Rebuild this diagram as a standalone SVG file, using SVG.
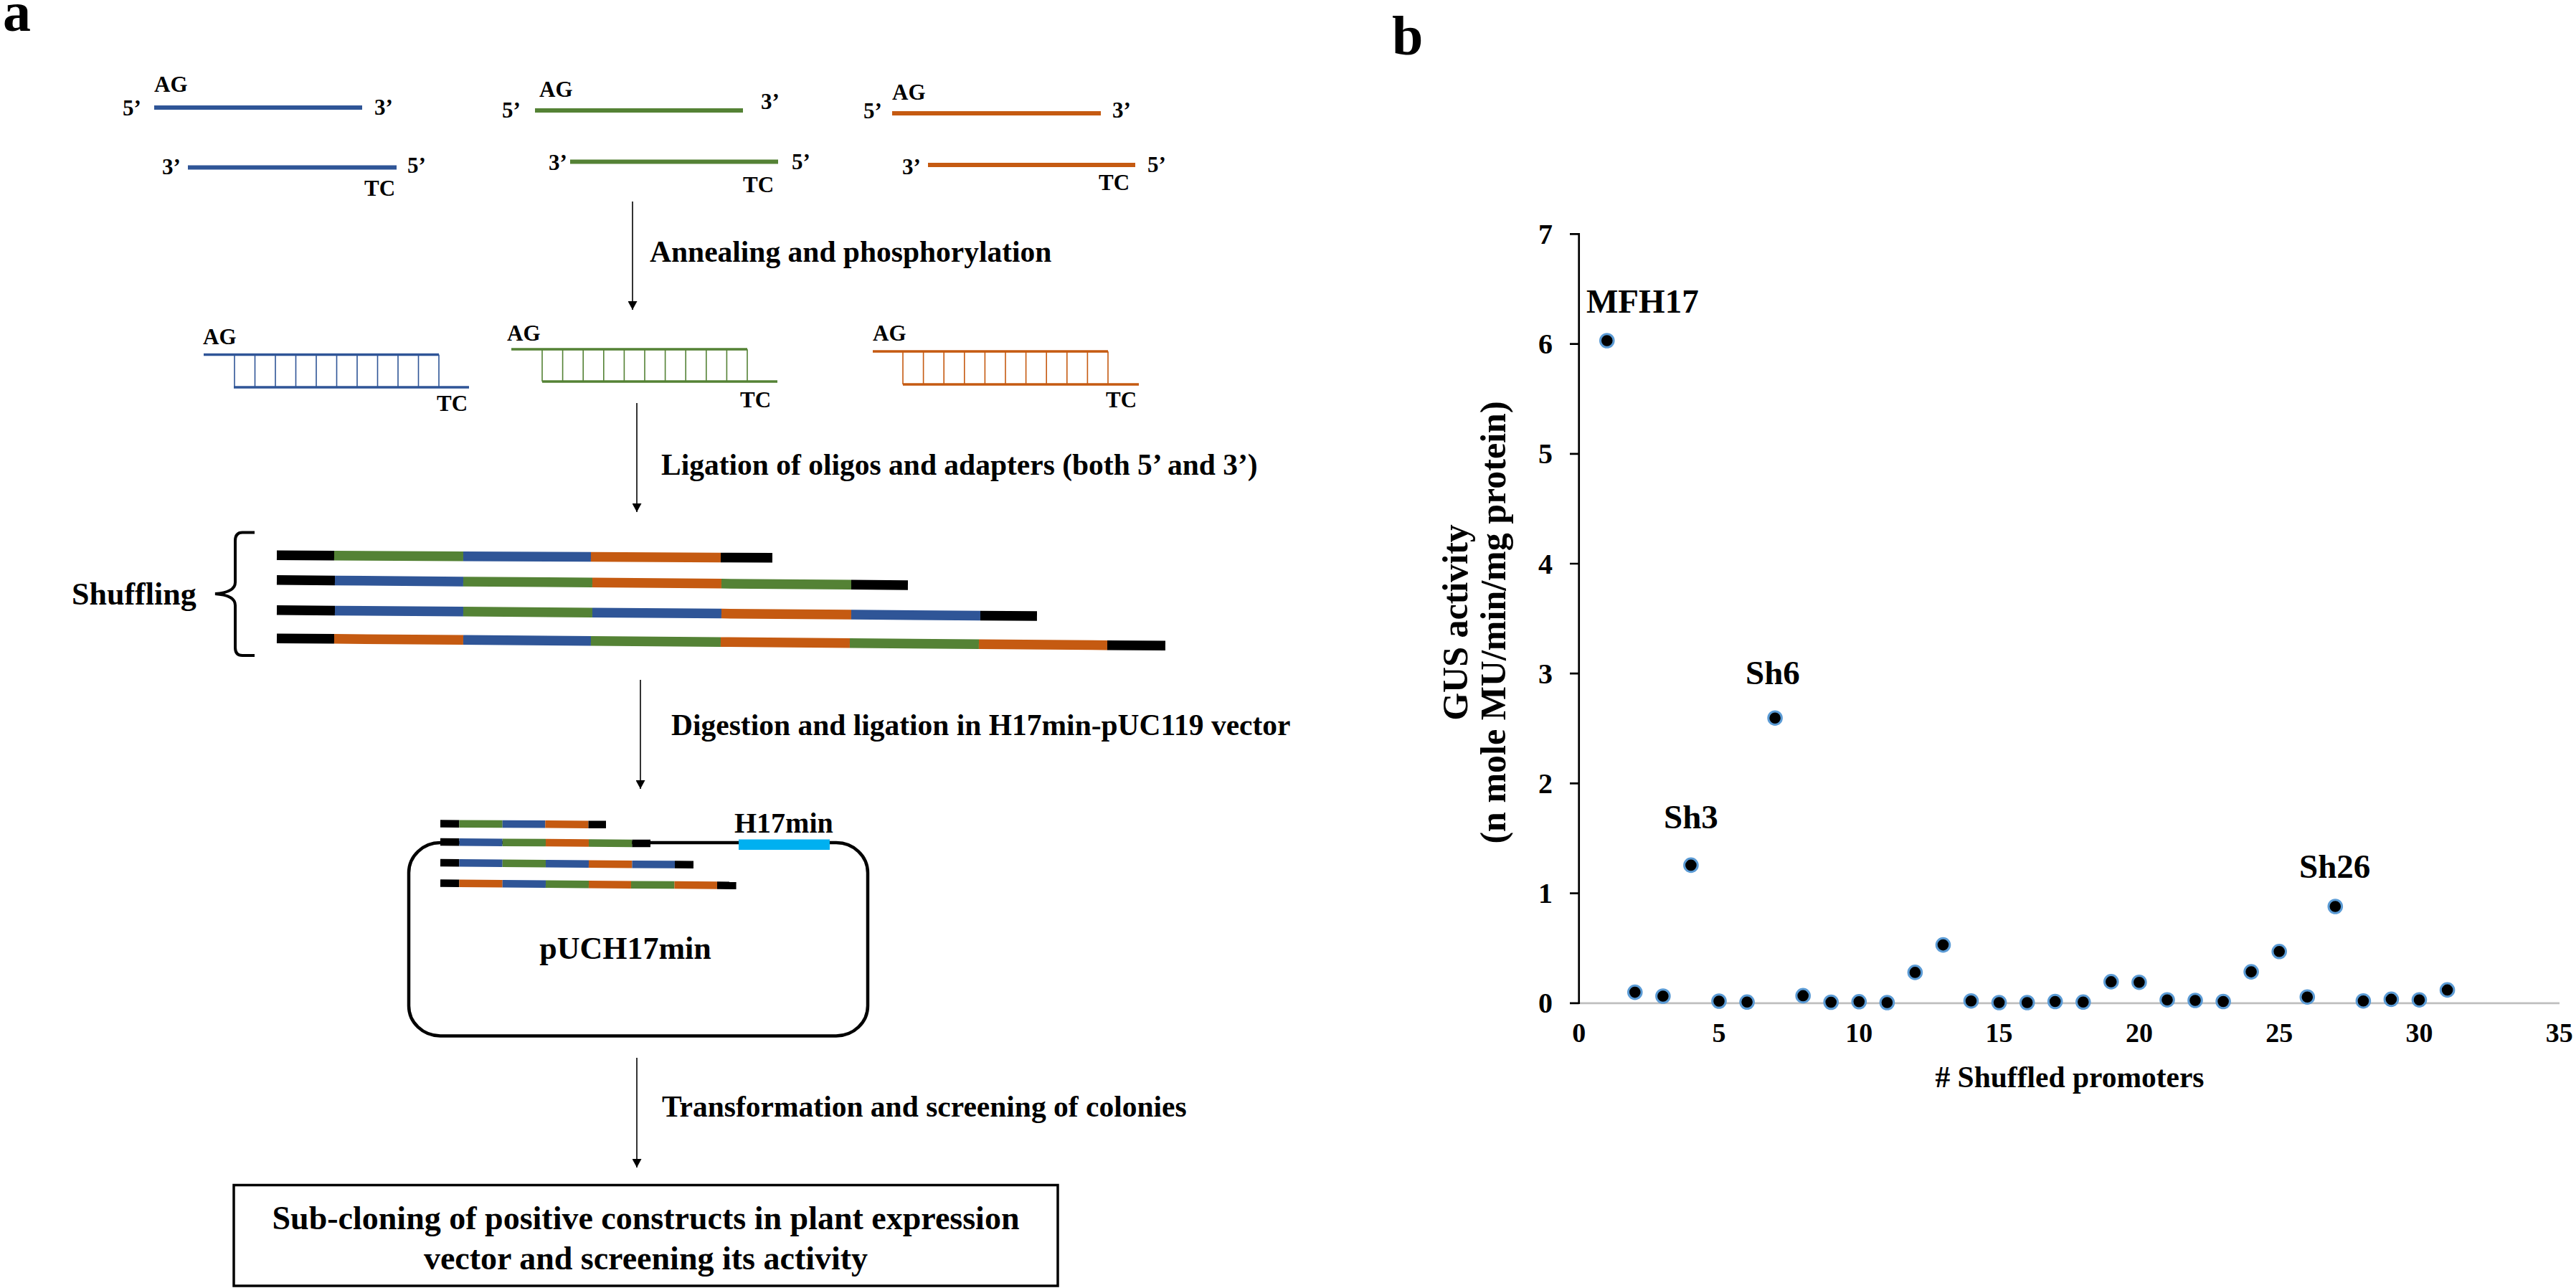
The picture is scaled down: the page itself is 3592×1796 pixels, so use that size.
<svg xmlns="http://www.w3.org/2000/svg" width="3592" height="1796" viewBox="0 0 3592 1796">
<defs>
<style>
text{font-family:"Liberation Serif","Times New Roman",serif;font-weight:bold;fill:#000}
.pl{font-size:78px}
.end{font-size:31px}
.lab{font-size:41.5px}
.box{font-size:46px}
.b{stroke:#2F5597}.g{stroke:#548235}.o{stroke:#C55A11}
.s6{stroke-width:6;fill:none}
.s35{stroke-width:3.5;fill:none}
.rung{stroke-width:1.6}
.arr{stroke:#000;stroke-width:1.6;fill:none;marker-end:url(#ah)}
.K{fill:#000}.B{fill:#2F5597}.G{fill:#548235}.O{fill:#C55A11}
.pt{fill:#000;stroke:#5B9BD5;stroke-width:3}
.yt{font-size:40px;text-anchor:end}
.xt{font-size:38px;text-anchor:middle}
.cl{font-size:47px}
.ttl{font-size:50px;text-anchor:middle}
</style>
<marker id="ah" viewBox="0 0 12 13" refX="12" refY="6.5" markerWidth="12" markerHeight="13" markerUnits="userSpaceOnUse" orient="auto">
<path d="M0,0 L12,6.5 L0,13 z" fill="#000"/>
</marker>
</defs>
<rect x="0" y="0" width="3592" height="1796" fill="#fff"/>

<text class="pl" x="4" y="43">a</text>
<text class="pl" x="1941" y="76">b</text>

<!-- single strands -->
<g id="oligo-blue">
<line class="b s6" x1="215" y1="150" x2="505" y2="150"/>
<line class="b s6" x1="262" y1="233.5" x2="553" y2="233.5"/>
<text class="end" x="171" y="161">5’</text>
<text class="end" x="215" y="128">AG</text>
<text class="end" x="522" y="160">3’</text>
<text class="end" x="226" y="243">3’</text>
<text class="end" x="568" y="241">5’</text>
<text class="end" x="508" y="273">TC</text>
</g>
<g id="oligo-green">
<line class="g s6" x1="746" y1="154" x2="1036" y2="154"/>
<line class="g s6" x1="795" y1="225.5" x2="1085" y2="225.5"/>
<text class="end" x="700" y="164">5’</text>
<text class="end" x="752" y="135">AG</text>
<text class="end" x="1061" y="152">3’</text>
<text class="end" x="765" y="237">3’</text>
<text class="end" x="1104" y="236">5’</text>
<text class="end" x="1036" y="268">TC</text>
</g>
<g id="oligo-orange">
<line class="o s6" x1="1244" y1="158" x2="1535" y2="158"/>
<line class="o s6" x1="1294" y1="230" x2="1583" y2="230"/>
<text class="end" x="1204" y="165">5’</text>
<text class="end" x="1244" y="139">AG</text>
<text class="end" x="1551" y="164">3’</text>
<text class="end" x="1258" y="243">3’</text>
<text class="end" x="1600" y="240">5’</text>
<text class="end" x="1532" y="265">TC</text>
</g>

<!-- annealed ladders -->
<g id="duplex-blue">
<line class="b s35" x1="284" y1="494.5" x2="612" y2="494.5"/>
<line class="b s35" x1="326" y1="540" x2="654" y2="540"/>
<path class="b rung" d="M327,494.5V540M355.5,494.5V540M384,494.5V540M412.5,494.5V540M441,494.5V540M469.5,494.5V540M498,494.5V540M526.5,494.5V540M555,494.5V540M583.5,494.5V540M612,494.5V540"/>
<text class="end" x="283" y="480">AG</text>
<text class="end" x="609" y="573">TC</text>
</g>
<g id="duplex-green">
<line class="g s35" x1="713" y1="487" x2="1042" y2="487"/>
<line class="g s35" x1="756" y1="532" x2="1084" y2="532"/>
<path class="g rung" d="M756,487V532M784.6,487V532M813.2,487V532M841.8,487V532M870.4,487V532M899,487V532M927.6,487V532M956.2,487V532M984.8,487V532M1013.4,487V532M1042,487V532"/>
<text class="end" x="707" y="475">AG</text>
<text class="end" x="1032" y="568">TC</text>
</g>
<g id="duplex-orange">
<line class="o s35" x1="1217" y1="490" x2="1545" y2="490"/>
<line class="o s35" x1="1259" y1="536" x2="1588" y2="536"/>
<path class="o rung" d="M1259,490V536M1287.6,490V536M1316.2,490V536M1344.8,490V536M1373.4,490V536M1402,490V536M1430.6,490V536M1459.2,490V536M1487.8,490V536M1516.4,490V536M1545,490V536"/>
<text class="end" x="1217" y="475">AG</text>
<text class="end" x="1542" y="568">TC</text>
</g>

<!-- shuffling -->
<g id="shuffling">
<text x="100" y="843" font-size="44">Shuffling</text>
<path d="M355,742.5 L338,742.5 Q328,742.5 328,754 L328,812 Q328,826 300,828 Q328,830 328,844 L328,903 Q328,914 338,914 L355,914" fill="none" stroke="#000" stroke-width="4"/>
<g transform="rotate(0.29 386 774.4)">
<rect class="K" x="386" y="767.6" width="80" height="13.5"/>
<rect class="G" x="466" y="767.6" width="180" height="13.5"/>
<rect class="B" x="646" y="767.6" width="178" height="13.5"/>
<rect class="O" x="824" y="767.6" width="181" height="13.5"/>
<rect class="K" x="1005" y="767.6" width="72" height="13.5"/>
</g>
<g transform="rotate(0.47 386 808.8)">
<rect class="K" x="386" y="802" width="81" height="13.5"/>
<rect class="B" x="467" y="802" width="179" height="13.5"/>
<rect class="G" x="646" y="802" width="180" height="13.5"/>
<rect class="O" x="826" y="802" width="180" height="13.5"/>
<rect class="G" x="1006" y="802" width="181" height="13.5"/>
<rect class="K" x="1187" y="802" width="79" height="13.5"/>
</g>
<g transform="rotate(0.45 386 850.7)">
<rect class="K" x="386" y="844" width="81" height="13.5"/>
<rect class="B" x="467" y="844" width="179" height="13.5"/>
<rect class="G" x="646" y="844" width="180" height="13.5"/>
<rect class="B" x="826" y="844" width="180" height="13.5"/>
<rect class="O" x="1006" y="844" width="181" height="13.5"/>
<rect class="B" x="1187" y="844" width="180" height="13.5"/>
<rect class="K" x="1367" y="844" width="79" height="13.5"/>
</g>
<g transform="rotate(0.47 386 890.2)">
<rect class="K" x="386" y="883.4" width="80" height="13.5"/>
<rect class="O" x="466" y="883.4" width="180" height="13.5"/>
<rect class="B" x="646" y="883.4" width="178" height="13.5"/>
<rect class="G" x="824" y="883.4" width="181" height="13.5"/>
<rect class="O" x="1005" y="883.4" width="180" height="13.5"/>
<rect class="G" x="1185" y="883.4" width="180" height="13.5"/>
<rect class="O" x="1365" y="883.4" width="179" height="13.5"/>
<rect class="K" x="1544" y="883.4" width="81" height="13.5"/>
</g>
</g>

<!-- plasmid -->
<g id="plasmid">
<rect x="570" y="1175" width="640" height="269.5" rx="44" ry="42" fill="none" stroke="#000" stroke-width="4.5"/>
<rect x="1030" y="1170.5" width="127" height="14.5" fill="#00B0F0"/>
<text x="1024" y="1161" font-size="40">H17min</text>
<g transform="rotate(0.3 614 1148.5)">
<rect class="K" x="614" y="1143.3" width="26.4" height="10.5"/>
<rect class="G" x="640.4" y="1143.3" width="60.3" height="10.5"/>
<rect class="B" x="700.7" y="1143.3" width="59.6" height="10.5"/>
<rect class="O" x="760.3" y="1143.3" width="60.2" height="10.5"/>
<rect class="K" x="820.5" y="1143.3" width="24.5" height="10.5"/>
</g>
<g transform="rotate(0.4 614 1174)">
<rect class="K" x="614" y="1168.8" width="26.4" height="10.5"/>
<rect class="B" x="640.4" y="1168.8" width="60.3" height="10.5"/>
<rect class="G" x="700.7" y="1168.8" width="60.3" height="10.5"/>
<rect class="O" x="761" y="1168.8" width="60" height="10.5"/>
<rect class="G" x="821" y="1168.8" width="60.5" height="10.5"/>
<rect class="K" x="881.5" y="1168.8" width="25.5" height="10.5"/>
</g>
<g transform="rotate(0.45 614 1203)">
<rect class="K" x="614" y="1197.8" width="26.4" height="10.5"/>
<rect class="B" x="640.4" y="1197.8" width="60.3" height="10.5"/>
<rect class="G" x="700.7" y="1197.8" width="60.3" height="10.5"/>
<rect class="B" x="761" y="1197.8" width="60" height="10.5"/>
<rect class="O" x="821" y="1197.8" width="60.5" height="10.5"/>
<rect class="B" x="881.5" y="1197.8" width="59.5" height="10.5"/>
<rect class="K" x="941" y="1197.8" width="26" height="10.5"/>
</g>
<g transform="rotate(0.45 614 1231.5)">
<rect class="K" x="614" y="1226.3" width="26.4" height="10.5"/>
<rect class="O" x="640.4" y="1226.3" width="60.3" height="10.5"/>
<rect class="B" x="700.7" y="1226.3" width="60.3" height="10.5"/>
<rect class="G" x="761" y="1226.3" width="60" height="10.5"/>
<rect class="O" x="821" y="1226.3" width="59" height="10.5"/>
<rect class="G" x="880" y="1226.3" width="60.5" height="10.5"/>
<rect class="O" x="940.5" y="1226.3" width="59.5" height="10.5"/>
<rect class="K" x="1000" y="1226.3" width="26.6" height="10.5"/>
</g>
<text x="872" y="1337" font-size="44" text-anchor="middle">pUCH17min</text>
</g>

<!-- final box -->
<g id="subcloning">
<rect x="326" y="1652.5" width="1149" height="140.5" fill="#fff" stroke="#000" stroke-width="3.5"/>
<text class="box" x="900.5" y="1714" text-anchor="middle">Sub-cloning of positive constructs in plant expression</text>
<text class="box" x="900.5" y="1770" text-anchor="middle">vector and screening its activity</text>
</g>

<!-- connectors -->
<g id="connectors">
<line class="arr" x1="882" y1="281" x2="882" y2="432"/>
<line class="arr" x1="888" y1="562" x2="888" y2="714"/>
<line class="arr" x1="893" y1="948" x2="893" y2="1100"/>
<line class="arr" x1="888" y1="1475" x2="888" y2="1628"/>
<text class="lab" x="906" y="365">Annealing and phosphorylation</text>
<text class="lab" x="922" y="662">Ligation of oligos and adapters (both 5’ and 3’)</text>
<text class="lab" x="936" y="1025">Digestion and ligation in H17min-pUC119 vector</text>
<text class="lab" x="923" y="1557">Transformation and screening of colonies</text>
</g>

<!-- chart -->
<g id="chart">
<line x1="2201.7" y1="1398.8" x2="3569" y2="1398.8" stroke="#BFBFBF" stroke-width="2.7"/>
<line x1="2201.7" y1="325" x2="2201.7" y2="1400" stroke="#000" stroke-width="2.7"/>
<path d="M2189,326.4H2201.7M2189,479.6H2201.7M2189,632.8H2201.7M2189,786H2201.7M2189,939.2H2201.7M2189,1092.4H2201.7M2189,1245.6H2201.7M2189,1398.8H2201.7" stroke="#000" stroke-width="2.7"/>
<text class="yt" x="2165" y="340">7</text>
<text class="yt" x="2165" y="493.2">6</text>
<text class="yt" x="2165" y="646.4">5</text>
<text class="yt" x="2165" y="799.6">4</text>
<text class="yt" x="2165" y="952.8">3</text>
<text class="yt" x="2165" y="1106">2</text>
<text class="yt" x="2165" y="1259.2">1</text>
<text class="yt" x="2165" y="1412.4">0</text>
<text class="xt" x="2201.7" y="1453">0</text>
<text class="xt" x="2397" y="1453">5</text>
<text class="xt" x="2592.3" y="1453">10</text>
<text class="xt" x="2787.6" y="1453">15</text>
<text class="xt" x="2982.9" y="1453">20</text>
<text class="xt" x="3178.2" y="1453">25</text>
<text class="xt" x="3373.5" y="1453">30</text>
<text class="xt" x="3568.8" y="1453">35</text>
<text x="2886" y="1516" font-size="41.5" text-anchor="middle"># Shuffled promoters</text>
<text class="ttl" transform="translate(2046,868) rotate(-90)">GUS activity</text>
<text class="ttl" transform="translate(2099,868) rotate(-90)">(n mole MU/min/mg protein)</text>
<g id="points">
<circle class="pt" cx="2240.8" cy="475" r="9.3"/>
<circle class="pt" cx="2279.8" cy="1383.6" r="9.3"/>
<circle class="pt" cx="2318.9" cy="1389" r="9.3"/>
<circle class="pt" cx="2357.9" cy="1206.4" r="9.3"/>
<circle class="pt" cx="2397" cy="1396" r="9.3"/>
<circle class="pt" cx="2436.1" cy="1397.3" r="9.3"/>
<circle class="pt" cx="2475.1" cy="1001.2" r="9.3"/>
<circle class="pt" cx="2514.2" cy="1388.4" r="9.3"/>
<circle class="pt" cx="2553.2" cy="1397.5" r="9.3"/>
<circle class="pt" cx="2592.3" cy="1396.8" r="9.3"/>
<circle class="pt" cx="2631.4" cy="1398" r="9.3"/>
<circle class="pt" cx="2670.4" cy="1355.9" r="9.3"/>
<circle class="pt" cx="2709.5" cy="1317.6" r="9.3"/>
<circle class="pt" cx="2748.5" cy="1395.7" r="9.3"/>
<circle class="pt" cx="2787.6" cy="1398" r="9.3"/>
<circle class="pt" cx="2826.7" cy="1398" r="9.3"/>
<circle class="pt" cx="2865.7" cy="1396.5" r="9.3"/>
<circle class="pt" cx="2904.8" cy="1397.3" r="9.3"/>
<circle class="pt" cx="2943.8" cy="1368.9" r="9.3"/>
<circle class="pt" cx="2982.9" cy="1369.7" r="9.3"/>
<circle class="pt" cx="3022" cy="1394.2" r="9.3"/>
<circle class="pt" cx="3061" cy="1395" r="9.3"/>
<circle class="pt" cx="3100.1" cy="1396.5" r="9.3"/>
<circle class="pt" cx="3139.1" cy="1355.1" r="9.3"/>
<circle class="pt" cx="3178.2" cy="1326.8" r="9.3"/>
<circle class="pt" cx="3217.3" cy="1390.2" r="9.3"/>
<circle class="pt" cx="3256.3" cy="1264" r="9.3"/>
<circle class="pt" cx="3295.4" cy="1395.7" r="9.3"/>
<circle class="pt" cx="3334.4" cy="1393.4" r="9.3"/>
<circle class="pt" cx="3373.5" cy="1394.2" r="9.3"/>
<circle class="pt" cx="3412.6" cy="1380.4" r="9.3"/>
</g>
<text class="cl" x="2212" y="436">MFH17</text>
<text class="cl" x="2434" y="954">Sh6</text>
<text class="cl" x="2320" y="1155">Sh3</text>
<text class="cl" x="3206" y="1224">Sh26</text>
</g>
</svg>
